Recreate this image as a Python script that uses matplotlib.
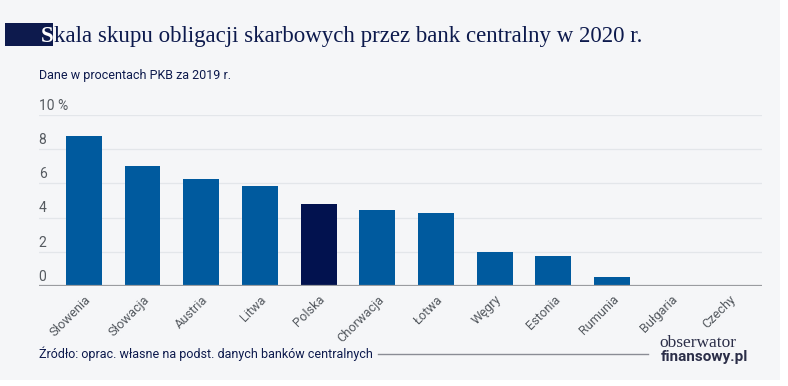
import matplotlib.pyplot as plt
from matplotlib.patches import Rectangle

countries = ["Słowenia", "Słowacja", "Austria", "Litwa", "Polska", "Chorwacja",
             "Łotwa", "Węgry", "Estonia", "Rumunia", "Bułgaria", "Czechy"]
values = [8.8, 7.0, 6.25, 5.85, 4.78, 4.45, 4.25, 2.0, 1.75, 0.5, 0.0, 0.0]
highlight = "Polska"
yticks = [0, 2, 4, 6, 8, 10]
ytick_labels = ["0", "2", "4", "6", "8", "10 %"]

title_first = "S"
title_rest = "kala skupu obligacji skarbowych przez bank centralny w 2020 r."
subtitle = "Dane w procentach PKB za 2019 r."
source = "Źródło: oprac. własne na podst. danych banków centralnych"

BG = "#f5f6f8"
NAVY = "#0d1a4d"
BLUE = "#005a9e"
DARK = "#02124f"
GREY = "#555a60"

W, H = 788, 386
fig = plt.figure(figsize=(W / 100, H / 100), dpi=100)
fig.patch.set_facecolor("white")
fig.patches.append(Rectangle((0, 6 / H), 780 / W, 1 - 6 / H, transform=fig.transFigure,
                             facecolor=BG, edgecolor="none", zorder=-10))

ax = fig.add_axes([38.7 / W, 1 - 286 / H, 723 / W, 171 / H])
ax.set_facecolor(BG)

colors = [DARK if c == highlight else BLUE for c in countries]
x = range(len(countries))
ax.bar(x, values, width=0.61, color=colors, zorder=3)

ax.set_xlim(-0.77, 11.55)
ax.set_ylim(0, 10)
for v in yticks[1:]:
    ax.axhline(v, color="#e3e6ea", lw=0.9, zorder=1)
ax.axhline(0, color="#9a9ca0", lw=1.6, zorder=4)

for v, lab in zip(yticks, ytick_labels):
    ax.text(0.0, v + 0.3, lab, transform=ax.get_yaxis_transform(), ha="left",
            va="baseline", fontsize=10, color=GREY, family="Roboto")

ax.set_yticks([])
ax.set_xticks(list(x))
ax.set_xticklabels(countries, rotation=45, ha="right", rotation_mode="anchor",
                   fontsize=9.2, color=GREY, family="Roboto")
ax.tick_params(axis="x", length=0, pad=5)
for s in ax.spines.values():
    s.set_visible(False)

# title with highlighted first letter
ty = 1 - 42 / H
fig.patches.append(Rectangle((5 / W, 1 - 46 / H), 48 / W, 23.5 / H, transform=fig.transFigure,
                             facecolor=NAVY, edgecolor="none", zorder=5))
t1 = fig.text(41 / W, ty, title_first, fontsize=16.5, color="white",
              family="Liberation Serif", va="baseline", fontweight="bold", zorder=6)
fig.canvas.draw()
bb = t1.get_window_extent()
fig.text(bb.x1 / W + 0.5 / W, ty, title_rest, fontsize=16.5, color=NAVY,
         family="Liberation Serif", va="baseline")

fig.text(39 / W, 1 - 79 / H, subtitle, fontsize=9, color=NAVY,
         family="Roboto", va="baseline")

fig.text(39 / W, 1 - 358 / H, source, fontsize=9, color=NAVY,
         family="Roboto", va="baseline")
fig.add_artist(plt.Line2D([378 / W, 648 / W], [1 - 354 / H, 1 - 354 / H],
                          transform=fig.transFigure, color="#8a8c95", lw=1))

fig.text(659 / W, 1 - 347 / H, "obserwator", fontsize=12.5, color="#2b2e48",
         family="Liberation Serif", va="baseline")
fig.text(661 / W, 1 - 361 / H, "finansowy.pl", fontsize=11, color="#2b2e48",
         family="Roboto", fontweight="bold", va="baseline")

fig.savefig("out.png", dpi=100, facecolor="white")
